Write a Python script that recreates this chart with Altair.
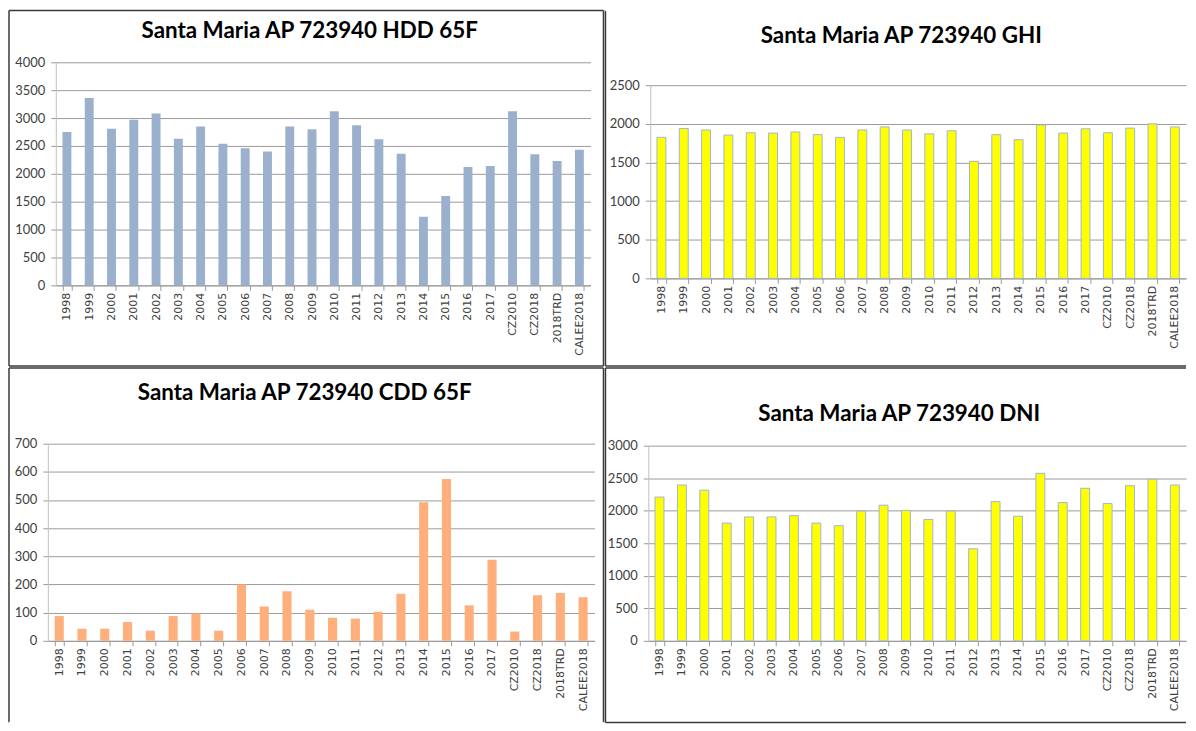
import altair as alt
import pandas as pd

categories = ["1998", "1999", "2000", "2001", "2002", "2003", "2004", "2005",
              "2006", "2007", "2008", "2009", "2010", "2011", "2012", "2013",
              "2014", "2015", "2016", "2017", "CZ2010", "CZ2018", "2018TRD",
              "CALEE2018"]

hdd = [2750, 3360, 2810, 2970, 3080, 2630, 2850, 2540, 2460, 2400, 2850, 2800,
       3120, 2870, 2620, 2360, 1230, 1600, 2120, 2140, 3120, 2350, 2230, 2430]
ghi = [1825, 1940, 1920, 1855, 1885, 1880, 1895, 1860, 1825, 1920, 1960, 1920,
       1870, 1910, 1515, 1860, 1795, 1985, 1880, 1935, 1885, 1945, 2000, 1960]
cdd = [88, 43, 43, 67, 36, 88, 97, 36, 200, 122, 176, 110,
       82, 79, 103, 167, 492, 575, 126, 288, 33, 162, 170, 155]
dni = [2210, 2395, 2315, 1810, 1905, 1905, 1925, 1810, 1770, 1995, 2085, 2005,
       1865, 1995, 1415, 2140, 1915, 2575, 2125, 2345, 2110, 2385, 2485, 2395]

hdd_ticks = [0, 500, 1000, 1500, 2000, 2500, 3000, 3500, 4000]
ghi_ticks = [0, 500, 1000, 1500, 2000, 2500]
cdd_ticks = [0, 100, 200, 300, 400, 500, 600, 700]
dni_ticks = [0, 500, 1000, 1500, 2000, 2500, 3000]

titles = ["Santa Maria AP 723940 HDD 65F", "Santa Maria AP 723940 GHI",
          "Santa Maria AP 723940 CDD 65F", "Santa Maria AP 723940 DNI"]

df = pd.DataFrame({"cat": categories, "hdd": hdd, "ghi": ghi, "cdd": cdd, "dni": dni})

FRAME = "#3a3a3a"


def panel(field, title, color, stroke, ticks, W, H, left, top, right, bottom,
          t_x, t_y, edges, xshift=0, ytop=0):
    bar_kwargs = dict(color=color)
    if stroke:
        bar_kwargs.update(stroke=stroke, strokeWidth=1)
    if xshift:
        xscale = alt.Scale(paddingInner=0.6, paddingOuter=0.3, range=[-xshift, W])
    else:
        xscale = alt.Scale(paddingInner=0.6, paddingOuter=0.3)
    if ytop:
        yscale = alt.Scale(domain=[0, ticks[-1]], nice=False, range=[H, ytop])
    else:
        yscale = alt.Scale(domain=[0, ticks[-1]], nice=False)
    yaxis_kwargs = dict(title=None, values=ticks, format="d",
                        labelFont="Lato", labelFontSize=13,
                        labelColor="#404040", labelPadding=6,
                        domainColor="#BFBFBF", tickColor="#999999",
                        tickSize=5, grid=True, gridColor="#9a9a9a", gridWidth=1)
    if xshift:
        yaxis_kwargs["offset"] = xshift
    bars = alt.Chart(df).mark_bar(**bar_kwargs).encode(
        x=alt.X("cat:N", sort=categories, scale=xscale,
                axis=alt.Axis(title=None, labelAngle=-90, tickBand="extent",
                              labelFont="DejaVu Sans", labelFontSize=11,
                              labelColor="#404040", labelPadding=2,
                              domainColor="#999999", tickColor="#999999",
                              tickSize=5, grid=False)),
        y=alt.Y(f"{field}:Q", scale=yscale, axis=alt.Axis(**yaxis_kwargs)),
    )
    one = alt.Data(values=[{"k": 0}])
    layers = [bars]
    for side, col in edges:
        if side in ("left", "right"):
            xv = -left if side == "left" else W + right
            r = alt.Chart(one).mark_rule(color=col, strokeWidth=1.5).encode(
                x=alt.value(xv), y=alt.value(-top), y2=alt.value(H + bottom))
        else:
            yv = -top if side == "top" else H + bottom
            r = alt.Chart(one).mark_rule(color=col, strokeWidth=1.5).encode(
                y=alt.value(yv), x=alt.value(-left), x2=alt.value(W + right))
        layers.append(r)
    ttl = alt.Chart(one).mark_text(
        text=title, font="Lato", fontSize=22.5, fontWeight="bold",
        color="#000000", align="center", baseline="alphabetic",
    ).encode(x=alt.value(t_x), y=alt.value(t_y))
    layers.append(ttl)
    return alt.layer(*layers).properties(width=W, height=H)


tl = panel("hdd", titles[0], "#9BB0CC", None, hdd_ticks,
           537, 224, 47, 52, 13, 81, 255, -24,
           [("left", FRAME), ("right", FRAME), ("top", FRAME), ("bottom", FRAME)])
tr = panel("ghi", titles[1], "#FFFF00", "#9DB6D6", ghi_ticks,
           538, 217, 45, 52, 0, 88, 252, -19,
           [("left", FRAME), ("top", "#FFFFFF"), ("bottom", FRAME)],
           ytop=23)
bl = panel("cdd", titles[2], "#FFAF7C", None, cdd_ticks,
           541, 196, 47, 78, 9, 82, 250, -46,
           [("left", FRAME), ("right", FRAME), ("top", FRAME), ("bottom", "#FFFFFF")],
           xshift=8, ytop=-2)
br = panel("dni", titles[3], "#FFFF00", "#9DB6D6", dni_ticks,
           538, 196, 45, 78, 0, 82, 250, -25,
           [("left", FRAME), ("top", FRAME), ("bottom", FRAME)],
           xshift=2)

chart = alt.vconcat(
    alt.hconcat(tl, tr, spacing=0),
    alt.hconcat(bl, br, spacing=0),
    spacing=0,
).properties(padding=0).configure_view(strokeWidth=0)

chart.save("out.html", embed_options={"renderer": "svg", "actions": False})
